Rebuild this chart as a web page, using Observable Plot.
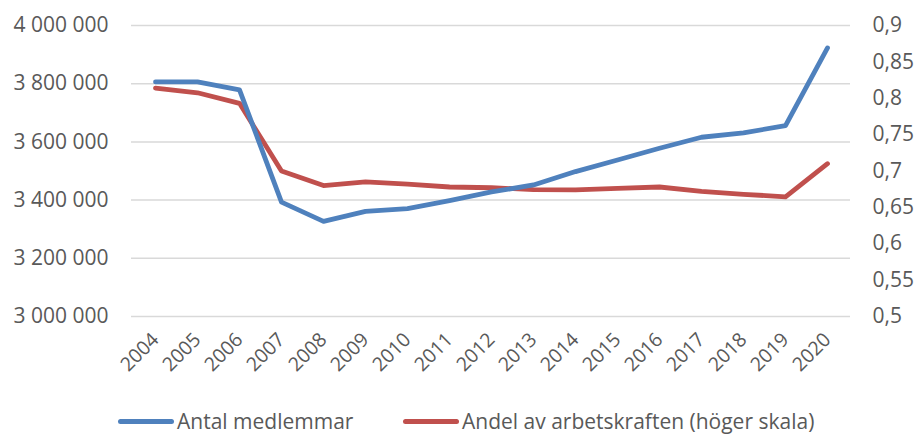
<!DOCTYPE html>
<html>
<head>
<meta charset="utf-8">
<script src="https://cdn.jsdelivr.net/npm/d3@7"></script>
<script src="https://cdn.jsdelivr.net/npm/@observablehq/plot@0.6"></script>
<style>
  html, body { margin: 0; padding: 0; background: #fff; }
  body { width: 915px; height: 436px; overflow: hidden; position: relative; font-family: "Open Sans", sans-serif; }
  #legend { position: absolute; left: 0; top: 406px; height: 30px; width: 915px; font-size: 21px; line-height: 28px; color: #595959; }
  .item { position: absolute; top: 0; display: flex; align-items: center; height: 30px; }
  .sw { width: 56px; height: 5px; border-radius: 3px; margin-right: 3px; }
</style>
</head>
<body>
<div id="chart"></div>
<div id="legend">
  <div class="item" style="left:118px"><div class="sw" style="background:#4F81BD"></div><span>Antal medlemmar</span></div>
  <div class="item" style="left:403px"><div class="sw" style="background:#C0504D"></div><span>Andel av arbetskraften (höger skala)</span></div>
</div>
<script>
const years = ["2004","2005","2006","2007","2008","2009","2010","2011","2012","2013","2014","2015","2016","2017","2018","2019","2020"];
const members = [3806000, 3806000, 3779000, 3393000, 3327000, 3361000, 3371000, 3398000, 3428000, 3452000, 3498000, 3538000, 3578000, 3616000, 3631000, 3656000, 3923000];
const share = [0.814, 0.8075, 0.793, 0.700, 0.680, 0.685, 0.682, 0.678, 0.677, 0.6745, 0.674, 0.676, 0.678, 0.672, 0.668, 0.6645, 0.710];
const leftTicks = [3000000, 3200000, 3400000, 3600000, 3800000, 4000000];
const rightTicks = [0.5, 0.55, 0.6, 0.65, 0.7, 0.75, 0.8, 0.85, 0.9];

const toLeft = v => 3000000 + (v - 0.5) / 0.4 * 1000000;
const fromLeft = v => 0.5 + (v - 3000000) / 1000000 * 0.4;
const fmtLeft = v => d3.format(",")(v).replace(/,/g, " ");
const fmtRight = v => String(+v.toFixed(2)).replace(".", ",");

const blueData = years.map((y, i) => ({year: y, value: members[i]}));
const redData = years.map((y, i) => ({year: y, value: toLeft(share[i])}));

const chart = Plot.plot({
  width: 915,
  height: 400,
  marginLeft: 131,
  marginRight: 65,
  marginTop: 25,
  marginBottom: 84,
  style: {fontFamily: "Open Sans, sans-serif", fontSize: "20px", color: "#595959", background: "#fff"},
  x: {type: "point", domain: years, padding: 0.5},
  y: {domain: [3000000, 4000000]},
  marks: [
    Plot.ruleY(leftTicks, {stroke: "#D9D9D9", strokeWidth: 1.5}),
    Plot.axisY({ticks: leftTicks, tickFormat: fmtLeft, tickSize: 0, tickPadding: 23, label: null, fontSize: 21}),
    Plot.axisY({anchor: "right", ticks: rightTicks.map(toLeft), tickFormat: v => fmtRight(fromLeft(v)), tickSize: 0, tickPadding: 22, label: null, fontSize: 21}),
    Plot.axisX({tickSize: 0, tickRotate: -45, tickPadding: 20, label: null, fontSize: 19.5}),
    Plot.line(redData, {x: "year", y: "value", stroke: "#C0504D", strokeWidth: 4.8, strokeLinecap: "round", strokeLinejoin: "round"}),
    Plot.line(blueData, {x: "year", y: "value", stroke: "#4F81BD", strokeWidth: 4.8, strokeLinecap: "round", strokeLinejoin: "round"})
  ]
});
document.getElementById("chart").appendChild(chart);
</script>
</body>
</html>
